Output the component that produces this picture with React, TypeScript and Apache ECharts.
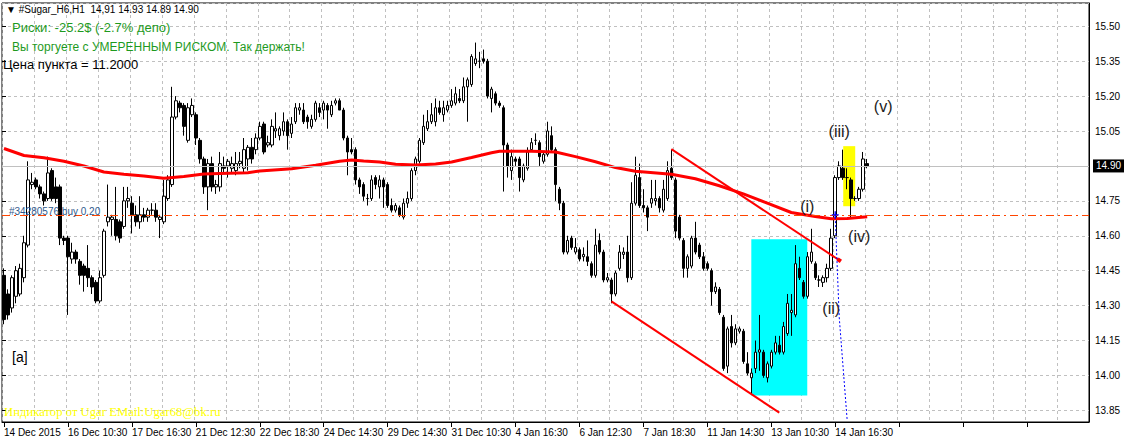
import React, { useEffect, useRef } from "react";
import * as echarts from "echarts";

// ---- Data ----
const tickLabels = [
  "14 Dec 2015", "16 Dec 10:30", "17 Dec 16:30", "21 Dec 12:30", "22 Dec 18:30",
  "24 Dec 14:30", "29 Dec 14:30", "31 Dec 10:30", "4 Jan 16:30", "6 Jan 12:30",
  "7 Jan 18:30", "11 Jan 14:30", "13 Jan 10:30", "14 Jan 16:30",
];
const barsPerLabel = 16;
const slotCount = 272;
const priceMin = 13.8;
const priceMax = 15.6;
const firstPriceTick = 13.85;
const priceStep = 0.15;

const opens = [
  14.43, 14.35, 14.29, 14.34, 14.35, 14.42, 14.56, 14.82, 14.84, 14.81,
  14.78, 14.76, 14.88, 14.81, 14.81, 14.59, 14.59, 14.50, 14.53, 14.49,
  14.47, 14.46, 14.42, 14.40, 14.32, 14.43, 14.66, 14.67, 14.67, 14.66,
  14.64, 14.75, 14.74, 14.69, 14.66, 14.69, 14.68, 14.71, 14.71, 14.67,
  14.66, 14.76, 14.82, 15.11, 15.17, 15.16, 15.01, 15.12, 15.12, 15.01,
  14.93, 14.81, 14.91, 14.81, 14.81, 14.90, 14.90, 14.89, 14.88, 14.91,
  14.89, 14.93, 14.98, 14.97, 15.02, 15.08, 14.99, 14.99, 15.05, 15.03,
  15.05, 15.09, 15.04, 15.09, 15.14, 15.14, 15.11, 15.07, 15.10, 15.15,
  15.14, 15.16, 15.12, 15.17, 15.18, 15.14, 15.02, 14.97, 14.97, 14.84,
  14.82, 14.76, 14.76, 14.85, 14.81, 14.84, 14.82, 14.73, 14.71, 14.72,
  14.68, 14.74, 14.76, 14.88, 14.92, 15.00, 15.06, 15.09, 15.09, 15.15,
  15.12, 15.14, 15.16, 15.17, 15.19, 15.18, 15.24, 15.25, 15.34, 15.35,
  15.36, 15.35, 15.19, 15.21, 15.17, 15.15, 14.99, 14.88, 14.93, 14.93,
  14.84, 14.89, 14.97, 15.01, 15.00, 14.92, 14.95, 15.03, 14.97, 14.80,
  14.74, 14.53, 14.59, 14.53, 14.54, 14.51, 14.51, 14.48, 14.43, 14.58,
  14.53, 14.41, 14.41, 14.35, 14.46, 14.52, 14.53, 14.42, 14.74, 14.85,
  14.73, 14.72, 14.74, 14.75, 14.76, 14.71, 14.76, 14.89, 14.84, 14.68,
  14.58, 14.46, 14.47, 14.59, 14.56, 14.51, 14.48, 14.45, 14.36, 14.37,
  14.25, 14.04, 14.21, 14.14, 14.19, 14.19, 14.05, 13.99, 14.03, 14.10,
  14.10, 13.99, 14.04, 14.10, 14.13, 14.10, 14.18, 14.27, 14.26, 14.46,
  14.40, 14.34, 14.49, 14.48, 14.41, 14.40, 14.42, 14.46, 14.60, 14.85,
  14.89, 14.85, 14.84, 14.76, 14.76, 14.80, 14.91,
];
const closes = [
  14.24, 14.26, 14.42, 14.45, 14.46, 14.57, 14.84, 14.83, 14.81, 14.78,
  14.75, 14.87, 14.76, 14.76, 14.59, 14.58, 14.51, 14.53, 14.50, 14.43,
  14.43, 14.42, 14.38, 14.32, 14.42, 14.62, 14.68, 14.68, 14.60, 14.59,
  14.75, 14.76, 14.69, 14.66, 14.69, 14.68, 14.71, 14.71, 14.68, 14.68,
  14.77, 14.84, 15.11, 15.18, 15.15, 15.07, 15.15, 15.16, 15.02, 14.93,
  14.81, 14.91, 14.81, 14.82, 14.91, 14.89, 14.92, 14.91, 14.91, 14.92,
  14.97, 14.98, 14.93, 15.02, 15.07, 14.96, 15.00, 15.07, 15.06, 15.06,
  15.09, 15.03, 15.08, 15.15, 15.15, 15.09, 15.09, 15.10, 15.17, 15.13,
  15.17, 15.14, 15.16, 15.18, 15.14, 15.02, 14.96, 14.96, 14.84, 14.81,
  14.77, 14.76, 14.84, 14.82, 14.84, 14.81, 14.73, 14.71, 14.73, 14.69,
  14.74, 14.76, 14.88, 14.93, 15.01, 15.07, 15.09, 15.12, 15.15, 15.13,
  15.15, 15.16, 15.18, 15.21, 15.18, 15.24, 15.27, 15.37, 15.36, 15.35,
  15.35, 15.20, 15.23, 15.17, 15.16, 14.99, 14.90, 14.94, 14.92, 14.85,
  14.90, 14.96, 15.00, 15.01, 14.94, 14.95, 15.05, 14.97, 14.82, 14.74,
  14.53, 14.58, 14.55, 14.55, 14.50, 14.52, 14.49, 14.43, 14.56, 14.53,
  14.41, 14.42, 14.35, 14.44, 14.53, 14.53, 14.42, 14.74, 14.86, 14.73,
  14.72, 14.68, 14.76, 14.76, 14.72, 14.80, 14.88, 14.85, 14.62, 14.59,
  14.46, 14.51, 14.59, 14.53, 14.51, 14.46, 14.46, 14.36, 14.38, 14.27,
  14.03, 14.20, 14.14, 14.20, 14.20, 14.06, 14.01, 14.01, 14.10, 14.11,
  14.00, 14.05, 14.10, 14.14, 14.10, 14.21, 14.31, 14.28, 14.48, 14.42,
  14.34, 14.51, 14.53, 14.42, 14.41, 14.42, 14.46, 14.59, 14.85, 14.90,
  14.85, 14.85, 14.76, 14.76, 14.80, 14.93, 14.90,
];
const lows = [
  14.22, 14.24, 14.27, 14.31, 14.34, 14.40, 14.55, 14.80, 14.80, 14.76,
  14.73, 14.75, 14.75, 14.74, 14.56, 14.56, 14.26, 14.48, 14.48, 14.39,
  14.36, 14.38, 14.35, 14.31, 14.31, 14.42, 14.64, 14.60, 14.58, 14.57,
  14.63, 14.72, 14.61, 14.64, 14.63, 14.66, 14.66, 14.69, 14.66, 14.59,
  14.65, 14.75, 14.81, 15.10, 15.13, 15.03, 15.00, 15.11, 14.99, 14.91,
  14.78, 14.71, 14.79, 14.78, 14.79, 14.87, 14.85, 14.87, 14.86, 14.89,
  14.87, 14.88, 14.91, 14.95, 15.01, 14.95, 14.98, 14.98, 15.02, 15.01,
  15.03, 14.97, 15.02, 15.08, 15.12, 15.08, 15.06, 15.06, 15.09, 15.11,
  15.10, 15.06, 15.11, 15.16, 15.14, 15.01, 14.86, 14.95, 14.82, 14.78,
  14.75, 14.73, 14.75, 14.80, 14.76, 14.72, 14.72, 14.70, 14.70, 14.68,
  14.67, 14.72, 14.75, 14.86, 14.91, 14.99, 15.05, 15.08, 15.07, 15.12,
  15.09, 15.13, 15.15, 15.16, 15.17, 15.17, 15.09, 15.24, 15.33, 15.32,
  15.34, 15.19, 15.13, 15.16, 15.15, 14.79, 14.85, 14.84, 14.90, 14.79,
  14.83, 14.88, 14.96, 14.99, 14.90, 14.91, 14.94, 14.96, 14.75, 14.71,
  14.52, 14.52, 14.54, 14.52, 14.49, 14.49, 14.47, 14.42, 14.42, 14.52,
  14.40, 14.40, 14.31, 14.34, 14.45, 14.50, 14.40, 14.41, 14.73, 14.72,
  14.70, 14.62, 14.72, 14.73, 14.70, 14.70, 14.75, 14.84, 14.59, 14.58,
  14.42, 14.42, 14.46, 14.52, 14.50, 14.45, 14.45, 14.30, 14.35, 14.26,
  14.02, 14.01, 14.12, 14.13, 14.18, 14.05, 14.00, 13.92, 14.01, 14.02,
  13.99, 13.97, 14.03, 14.09, 14.09, 14.09, 14.17, 14.17, 14.25, 14.41,
  14.33, 14.33, 14.48, 14.41, 14.38, 14.38, 14.40, 14.45, 14.59, 14.84,
  14.84, 14.80, 14.68, 14.75, 14.75, 14.79, 14.89,
];
const highs = [
  14.46, 14.37, 14.43, 14.47, 14.48, 14.60, 14.92, 14.87, 14.85, 14.82,
  14.79, 14.94, 14.89, 14.85, 14.82, 14.60, 14.60, 14.57, 14.54, 14.50,
  14.48, 14.56, 14.43, 14.41, 14.45, 14.63, 14.82, 14.69, 14.81, 14.67,
  14.81, 14.81, 14.77, 14.73, 14.77, 14.72, 14.72, 14.74, 14.74, 14.69,
  14.84, 14.86, 15.24, 15.20, 15.18, 15.17, 15.17, 15.19, 15.13, 15.02,
  14.94, 14.93, 14.94, 14.84, 14.96, 14.94, 14.93, 14.94, 14.96, 14.96,
  15.02, 14.99, 15.02, 15.04, 15.09, 15.09, 15.03, 15.10, 15.13, 15.07,
  15.13, 15.10, 15.11, 15.17, 15.17, 15.17, 15.12, 15.12, 15.18, 15.17,
  15.18, 15.17, 15.18, 15.19, 15.19, 15.15, 15.03, 15.02, 14.98, 14.85,
  14.83, 14.78, 14.86, 14.86, 14.86, 14.85, 14.83, 14.76, 14.74, 14.73,
  14.76, 14.79, 14.89, 14.94, 15.02, 15.12, 15.14, 15.17, 15.19, 15.18,
  15.18, 15.18, 15.23, 15.24, 15.23, 15.28, 15.28, 15.38, 15.43, 15.39,
  15.40, 15.36, 15.24, 15.22, 15.18, 15.16, 15.00, 14.97, 14.94, 14.94,
  14.91, 14.98, 15.02, 15.04, 15.01, 14.96, 15.09, 15.07, 14.98, 14.81,
  14.75, 14.60, 14.60, 14.59, 14.55, 14.55, 14.58, 14.49, 14.63, 14.61,
  14.54, 14.44, 14.42, 14.45, 14.56, 14.55, 14.60, 14.83, 14.94, 14.91,
  14.80, 14.73, 14.84, 14.84, 14.77, 14.84, 14.92, 14.97, 14.85, 14.69,
  14.59, 14.52, 14.60, 14.66, 14.57, 14.53, 14.49, 14.46, 14.40, 14.38,
  14.26, 14.21, 14.26, 14.22, 14.21, 14.20, 14.10, 14.03, 14.15, 14.26,
  14.11, 14.06, 14.11, 14.17, 14.17, 14.23, 14.35, 14.35, 14.56, 14.51,
  14.41, 14.53, 14.63, 14.49, 14.43, 14.43, 14.48, 14.63, 14.86, 14.92,
  14.97, 14.89, 14.85, 14.77, 14.81, 14.96, 14.93,
];

// Moving average (red line), read at sample bars
const maBars = [0, 5, 10, 15, 20, 25, 30, 35, 40, 45, 50, 54, 61, 64, 72, 78, 84, 87, 90, 94, 98, 103, 108, 112, 117, 122, 124, 132, 138, 143, 148, 153, 158, 161, 167, 173, 179, 185, 191, 197, 203, 207, 211, 216];
const maValues = [14.975, 14.945, 14.935, 14.92, 14.90, 14.874, 14.864, 14.857, 14.847, 14.855, 14.865, 14.868, 14.871, 14.878, 14.888, 14.903, 14.92, 14.926, 14.921, 14.917, 14.907, 14.904, 14.908, 14.917, 14.936, 14.957, 14.963, 14.963, 14.96, 14.94, 14.918, 14.893, 14.877, 14.873, 14.864, 14.845, 14.815, 14.78, 14.74, 14.70, 14.683, 14.673, 14.674, 14.682];

const currentPrice = 14.9;
const orderPrice = 14.685;
const trendLines = [
  [[167, 14.972], [209, 14.495]],
  [[152, 14.318], [194, 13.84]],
];
const stopPath = [[208, 14.68], [208.75, 14.25], [210.5, 13.805]];
const cyanBox = [[187, 14.585], [201, 13.914]];
const yellowBox = [[210, 14.985], [213, 14.727]];
const waveLabels = ["(i)", "(ii)", "(iii)", "(iv)", "(v)"];
const waveBars = [201.25, 207.25, 208.75, 214.25, 220.25];
const wavePrices = [14.725, 14.287, 15.05, 14.597, 15.157];

export default function App() {
  const ref = useRef<HTMLDivElement>(null);

  useEffect(() => {
    if (!ref.current) return;
    const chart = echarts.init(ref.current, null, { renderer: "svg" });

    const categories: string[] = [];
    for (let i = 0; i < slotCount; i++) {
      const k = i / barsPerLabel;
      categories.push(i % barsPerLabel === 0 && tickLabels[k] ? tickLabels[k] : "");
    }
    const candleData = opens.map((o, i) => [o, closes[i], lows[i], highs[i]]);
    const maData: (number | null)[] = new Array(opens.length).fill(null);
    maBars.forEach((b, i) => (maData[b] = maValues[i]));

    const font = "Liberation Sans";
    const gridTop = 3;
    const gridHeight = 419;
    const pxPerUnit = gridHeight / (priceMax - priceMin);
    // decoration grid whose bottom sits exactly on the first price tick
    const tickGridHeight = (priceMax - firstPriceTick) * pxPerUnit;

    chart.setOption({
      animation: false,
      backgroundColor: "#ffffff",
      grid: [
        { left: 2, top: gridTop, width: 1087, height: gridHeight, show: true, borderColor: "#000", borderWidth: 1, backgroundColor: "transparent" },
        { left: 2, top: gridTop, width: 1087, height: tickGridHeight, show: false },
      ],
      xAxis: [
        {
          type: "category",
          gridIndex: 0,
          data: categories,
          boundaryGap: true,
          axisLine: { show: true, lineStyle: { color: "#000" } },
          axisTick: { show: true, interval: barsPerLabel - 1, alignWithLabel: true, length: 5, lineStyle: { color: "#000" } },
          axisLabel: { interval: barsPerLabel - 1, align: "left", margin: 5, fontSize: 10, fontFamily: font, color: "#000" },
          splitLine: { show: true, interval: 7, lineStyle: { color: "#c0c0c0", type: [3, 3] } },
        },
        { type: "value", gridIndex: 1, show: false, min: 0, max: 1 },
      ],
      yAxis: [
        {
          type: "value",
          gridIndex: 0,
          position: "right",
          min: priceMin,
          max: priceMax,
          axisLine: { show: true, lineStyle: { color: "#000" } },
          axisTick: { show: false },
          axisLabel: { show: false },
          splitLine: { show: false },
        },
        {
          type: "value",
          gridIndex: 1,
          position: "right",
          min: firstPriceTick,
          max: priceMax,
          interval: priceStep,
          axisLine: { show: false },
          axisTick: { show: true, length: 4, lineStyle: { color: "#000" } },
          axisLabel: {
            showMinLabel: true,
            showMaxLabel: false,
            margin: 6,
            fontSize: 10,
            fontFamily: font,
            color: "#000",
            formatter: (v: number) => (Math.abs(v - priceMax) < 1e-6 ? "" : v.toFixed(2)),
          },
          splitLine: { show: true, lineStyle: { color: "#c0c0c0", type: [3, 3] } },
        },
      ],
      series: [
        {
          type: "candlestick",
          xAxisIndex: 0,
          yAxisIndex: 0,
          data: candleData,
          barWidth: 3,
          z: 3,
          itemStyle: { color: "#ffffff", color0: "#000000", borderColor: "#000000", borderColor0: "#000000", borderWidth: 1 },
          markArea: {
            silent: true,
            data: [
              [{ coord: cyanBox[0], itemStyle: { color: "#00ffff", opacity: 1 } }, { coord: cyanBox[1] }],
              [{ coord: yellowBox[0], itemStyle: { color: "#ffff00", opacity: 1 } }, { coord: yellowBox[1] }],
            ],
          },
          markLine: {
            silent: true,
            symbol: ["none", "none"],
            animation: false,
            data: [
              {
                yAxis: currentPrice,
                lineStyle: { color: "#c0c0c0", type: "solid", width: 1 },
                label: {
                  show: true, position: "end", formatter: currentPrice.toFixed(2), color: "#fff",
                  backgroundColor: "#000", padding: [2, 3, 1, 3], fontSize: 10, fontFamily: font, distance: 4,
                },
              },
              {
                yAxis: orderPrice,
                lineStyle: { color: "#ff4500", type: [8, 4, 2, 4], width: 1 },
                label: { show: false },
              },
              ...trendLines.map((t, i) => [
                { coord: t[0], lineStyle: { color: "#ff0000", width: 2, type: "solid" }, label: { show: false }, symbol: "none" },
                { coord: t[1], symbol: i === 0 ? "rect" : "none", symbolSize: 4 },
              ]),
              ...stopPath.slice(1).map((p, i) => [
                { coord: stopPath[i], lineStyle: { color: "#0000ff", width: 1, type: [2, 2] }, label: { show: false } },
                { coord: p },
              ]),
            ],
          },
          markPoint: {
            silent: true,
            data: [
              ...waveLabels.map((t, i) => ({
                coord: [waveBars[i], wavePrices[i]],
                symbol: "circle",
                symbolSize: 0,
                label: { show: true, position: "inside", formatter: t, fontSize: 16, fontFamily: font, color: "#1c1c1c" },
              })),
              {
                coord: [207.5, 14.69],
                symbol: "path://M4,0h2v4h4v2h-4v4h-2v-4h-4v-2h4z",
                symbolSize: 7,
                itemStyle: { color: "#0000ff" },
                label: { show: false },
              },
            ],
          },
        },
        {
          type: "line",
          xAxisIndex: 0,
          yAxisIndex: 0,
          data: maData,
          connectNulls: true,
          symbol: "none",
          z: 4,
          lineStyle: { color: "#ff0000", width: 3 },
        },
      ],
      graphic: [
        { type: "text", left: 6, top: 4, z: 100, style: { text: "▼ #Sugar_H6,H1  14,91 14.93 14.89 14.90", fontSize: 10, fontFamily: font, fill: "#000" } },
        { type: "text", left: 12, top: 21, z: 100, style: { text: "Риски: -25.2$ (-2.7% депо)", fontSize: 13, fontFamily: font, fill: "#1e9a1e" } },
        { type: "text", left: 12, top: 41, z: 100, style: { text: "Вы торгуете с УМЕРЕННЫМ РИСКОМ. Так держать!", fontSize: 12, fontFamily: font, fill: "#1e9a1e" } },
        { type: "text", left: 3, top: 58, z: 100, style: { text: "Цена пункта = 11.2000", fontSize: 13, fontFamily: font, fill: "#000" } },
        { type: "text", left: 9, top: 206, z: 100, style: { text: "#34280576 buy 0.20", fontSize: 10, fontFamily: font, fill: "#2f5a8c" } },
        { type: "text", left: 12, top: 350, z: 100, style: { text: "[a]", fontSize: 14, fontFamily: font, fill: "#000" } },
        { type: "text", left: 4, top: 405, z: 100, style: { text: "Индикатор от Ugar EMail:Ugar68@bk.ru", fontSize: 12.7, fontFamily: "Liberation Serif", fill: "#ffff00" } },
      ],
    });

    return () => chart.dispose();
  }, []);

  return (
    <div
      ref={ref}
      style={{ position: "absolute", left: 0, top: 0, width: 1129, height: 443, background: "#fff" }}
    />
  );
}
